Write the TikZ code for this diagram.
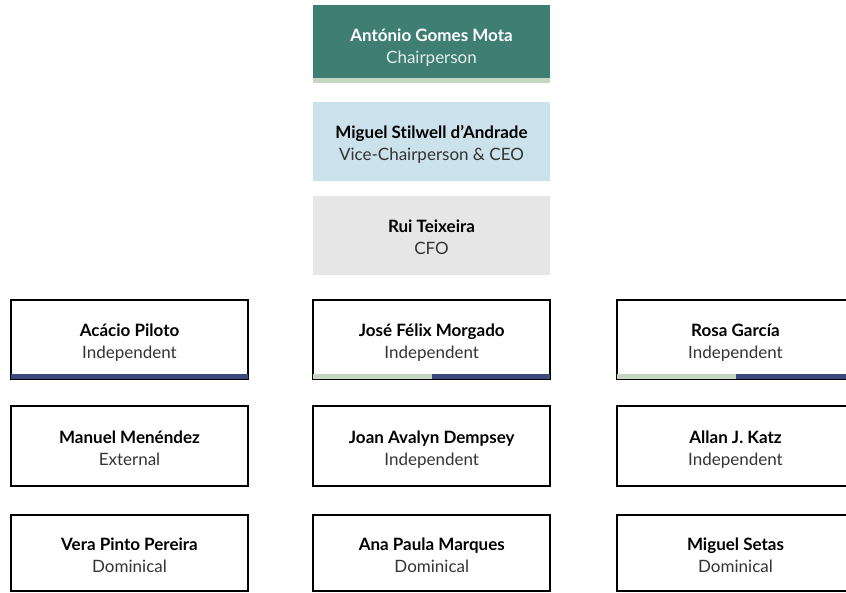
\documentclass[tikz,border=0pt]{standalone}
\usepackage{fontspec}
\setmainfont{Lato}[Ligatures={NoCommon}]
\definecolor{teal1}{HTML}{3E7E73}
\definecolor{sage}{HTML}{C6D6C3}
\definecolor{skyb}{HTML}{CBE1EB}
\definecolor{greyb}{HTML}{E6E6E6}
\definecolor{navy}{HTML}{3B4A7A}
\definecolor{subtxt}{HTML}{333333}
\definecolor{subwhite}{HTML}{E4EFEC}
\tikzset{
  card/.style={rectangle, minimum width=237pt, minimum height=79pt, inner sep=0pt, font=\fontsize{17}{22}\selectfont},
  member/.style={card, draw=black, line width=1.8pt, fill=white},
}
\newcommand{\entrytxt}[3]{\raisebox{-4pt}[\height][\depth]{\begin{tabular}{@{}c@{}}\bfseries #1\\\color{#3}#2\end{tabular}}}
\newcommand{\entry}[2]{\entrytxt{#1}{#2}{subtxt}}
\begin{document}
\begin{tikzpicture}[x=1pt,y=1pt]
\useasboundingbox (0,0) rectangle (846,593);
\clip (0,0) rectangle (846,593);
% top column
\node[card, fill=teal1, minimum height=78pt, text=white] (chair) at (431.5,549) {\entrytxt{António Gomes Mota}{Chairperson}{subwhite}};
\fill[sage] (chair.south west) rectangle ([yshift=5pt]chair.south east);
\node[card, fill=skyb] (vice) at (431.5,451.5) {\entry{Miguel Stilwell d’Andrade}{Vice-Chairperson \& CEO}};
\node[card, fill=greyb] (cfo) at (431.5,357.5) {\entry{Rui Teixeira}{CFO}};
% row 1
\node[member] (acacio) at (129.5,253.5) {\entry{Acácio Piloto}{Independent}};
\node[member] (jose) at (431.75,253.5) {\entry{José Félix Morgado}{Independent}};
\node[member] (rosa) at (735.5,253.5) {\entry{Rosa García}{Independent}};
\fill[navy] ([shift={(1pt,1pt)}]acacio.south west) rectangle ([shift={(-1pt,6pt)}]acacio.south east);
\fill[sage] ([shift={(1pt,1pt)}]jose.south west) rectangle ([yshift=6pt]jose.south);
\fill[navy] ([yshift=1pt]jose.south) rectangle ([shift={(-1pt,6pt)}]jose.south east);
\fill[sage] ([shift={(1pt,1pt)}]rosa.south west) rectangle ([yshift=6pt]rosa.south);
\fill[navy] ([yshift=1pt]rosa.south) rectangle ([shift={(-1pt,6pt)}]rosa.south east);
% row 2
\node[member, minimum height=80pt] (manuel) at (129.5,147) {\entry{Manuel Menéndez}{External}};
\node[member, minimum height=80pt] (joan) at (431.75,147) {\entry{Joan Avalyn Dempsey}{Independent}};
\node[member, minimum height=80pt] (allan) at (735.5,147) {\entry{Allan J. Katz}{Independent}};
% row 3
\node[member, minimum height=76pt] (vera) at (129.5,40) {\entry{Vera Pinto Pereira}{Dominical}};
\node[member, minimum height=76pt] (ana) at (431.75,40) {\entry{Ana Paula Marques}{Dominical}};
\node[member, minimum height=76pt] (setas) at (735.5,40) {\entry{Miguel Setas}{Dominical}};
\end{tikzpicture}
\end{document}
